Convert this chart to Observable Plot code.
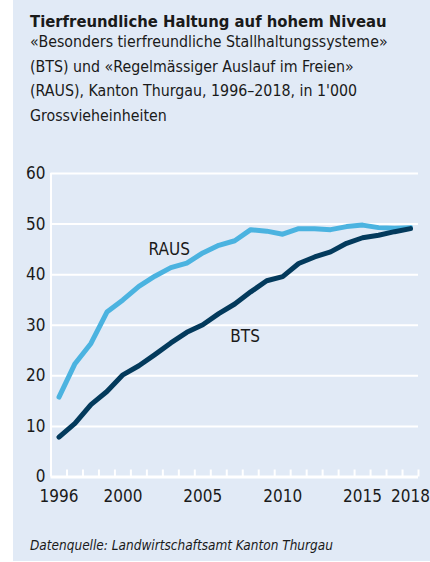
<!DOCTYPE html>
<html>
<head>
<meta charset="utf-8">
<script src="https://cdn.jsdelivr.net/npm/d3@7"></script>
<script src="https://cdn.jsdelivr.net/npm/@observablehq/plot@0.6"></script>
<style>
  html, body { margin: 0; padding: 0; background: #ffffff; }
  body { width: 430px; height: 562px; position: relative; overflow: hidden;
         font-family: "Liberation Sans Narrow", "DejaVu Sans Condensed", "Roboto Condensed", "Liberation Sans", sans-serif; color: #1a1a1a; }
  #panel { position: absolute; left: 13px; top: 0; width: 417px; height: 561px; background: #e1eaf6; }
  #title { position: absolute; left: 30px; top: 11px; font-size: 16.5px; line-height: 21px; font-weight: bold; white-space: nowrap; }
  #subtitle { position: absolute; left: 30px; top: 30px; font-size: 15.8px; line-height: 24.5px; white-space: nowrap; }
  #chart { position: absolute; left: 0; top: 150px; }
  #caption { position: absolute; left: 30px; top: 536px; font-size: 13.5px; line-height: 18px; font-style: italic; white-space: nowrap; }
</style>
</head>
<body>
<div id="panel"></div>
<div id="title">Tierfreundliche Haltung auf hohem Niveau</div>
<div id="subtitle">«Besonders tierfreundliche Stallhaltungssysteme»<br>(BTS) und «Regelmässiger Auslauf im Freien»<br>(RAUS), Kanton Thurgau, 1996–2018, in 1'000<br>Grossvieheinheiten</div>
<div id="chart"></div>
<div id="caption">Datenquelle: Landwirtschaftsamt Kanton Thurgau</div>
<script>
const years = [1996, 1997, 1998, 1999, 2000, 2001, 2002, 2003, 2004, 2005, 2006, 2007, 2008, 2009, 2010, 2011, 2012, 2013, 2014, 2015, 2016, 2017, 2018];
const raus = [15.8, 22.4, 26.4, 32.6, 35.0, 37.7, 39.7, 41.4, 42.3, 44.3, 45.8, 46.7, 48.9, 48.6, 48.0, 49.1, 49.1, 48.9, 49.5, 49.8, 49.3, 49.2, 49.3];
const bts = [7.9, 10.6, 14.3, 16.9, 20.2, 22.0, 24.2, 26.5, 28.6, 30.1, 32.3, 34.2, 36.6, 38.8, 39.6, 42.2, 43.5, 44.5, 46.2, 47.3, 47.8, 48.5, 49.1];
const xTickLabels = [1996, 2000, 2005, 2010, 2015, 2018];
const yTicks = [0, 10, 20, 30, 40, 50, 60];
const xDomain = [1995.5, 2018.5];
const seriesLabels = [
  {name: "RAUS", year: 2002.9, value: 45.0},
  {name: "BTS", year: 2007.65, value: 27.7}
];

const rausData = years.map((y, i) => ({year: y, value: raus[i]}));
const btsData = years.map((y, i) => ({year: y, value: bts[i]}));
const yearBoundaries = years.map(y => y + 0.5);

const font = '"Liberation Sans Narrow", "DejaVu Sans Condensed", "Roboto Condensed", "Liberation Sans", sans-serif';

const chart = Plot.plot({
  width: 430,
  height: 370,
  marginTop: 23,
  marginBottom: 43.5,
  marginLeft: 50.5,
  marginRight: 12,
  style: {fontFamily: font, fontSize: "17px", color: "#1a1a1a", background: "transparent", overflow: "visible"},
  x: {domain: xDomain, label: null},
  y: {domain: [0, 60], label: null},
  marks: [
    Plot.ruleY(yTicks.filter(d => d > 0), {y: d => d, stroke: "white", strokeWidth: 2}),
    Plot.ruleX([xDomain[0]], {x: d => d, y1: 0, y2: 60, stroke: "white", strokeWidth: 2}),
    Plot.ruleX(yearBoundaries, {x: d => d, y1: 0, y2: 0, insetTop: -7, stroke: "white", strokeWidth: 2}),
    Plot.ruleY([0], {y: d => d, stroke: "white", strokeWidth: 3}),
    Plot.axisY(yTicks, {tickSize: 0, tickPadding: 5.5, fill: "#1a1a1a", fontSize: 17, label: null}),
    Plot.axisX(xTickLabels, {tickSize: 0, tickPadding: 13, fill: "#1a1a1a", fontSize: 17, label: null, tickFormat: d => String(d)}),
    Plot.line(rausData, {x: "year", y: "value", stroke: "#4bb3e0", strokeWidth: 5}),
    Plot.line(btsData, {x: "year", y: "value", stroke: "#033a5c", strokeWidth: 5}),
    Plot.text(seriesLabels, {x: "year", y: "value", text: "name", fill: "#1a1a1a", fontSize: 17, textAnchor: "middle"})
  ]
});
document.getElementById("chart").appendChild(chart);
</script>
</body>
</html>
